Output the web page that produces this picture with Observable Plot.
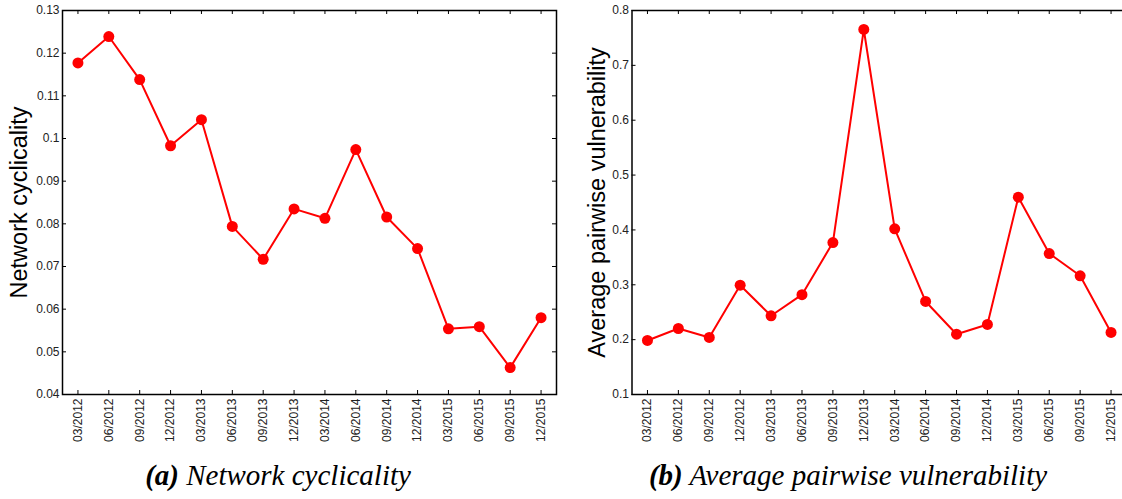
<!DOCTYPE html>
<html>
<head>
<meta charset="utf-8">
<script src="https://cdn.jsdelivr.net/npm/d3@7"></script>
<script src="https://cdn.jsdelivr.net/npm/@observablehq/plot@0.6"></script>
<style>
  html, body { margin: 0; padding: 0; background: #fff; overflow: hidden; }
  #wrap { position: relative; width: 1122px; height: 499px; overflow: hidden; background: #fff; }
  .panel { position: absolute; top: 0; width: 570px; }
  .panel svg { max-width: none !important; }
  .caption { position: absolute; top: 459px; font-family: "Liberation Serif", "Times New Roman", serif; font-style: italic; font-size: 29px; line-height: 33px; color: #000; white-space: nowrap; transform: translateX(-50%); }
  .caption b { font-weight: bold; }
</style>
</head>
<body>
<div id="wrap">
  <div id="left" class="panel" style="left:0px"></div>
  <div id="right" class="panel" style="left:561px"></div>
  <div class="caption" style="left:278px"><b>(a)</b> Network cyclicality</div>
  <div class="caption" style="left:848px"><b>(b)</b> Average pairwise vulnerability</div>
</div>
<script>
const dates = ["03/2012","06/2012","09/2012","12/2012","03/2013","06/2013","09/2013","12/2013","03/2014","06/2014","09/2014","12/2014","03/2015","06/2015","09/2015","12/2015"];
const cyclicality = [0.1177,0.1239,0.1138,0.0983,0.1044,0.0794,0.0717,0.0835,0.0813,0.0974,0.0816,0.0742,0.0554,0.0559,0.0463,0.0580];
const vulnerability = [0.1985,0.2203,0.2040,0.2993,0.2435,0.2820,0.3770,0.7654,0.4020,0.2696,0.2099,0.2277,0.4597,0.3570,0.3164,0.2131];
const cycTicks = [0.04,0.05,0.06,0.07,0.08,0.09,0.1,0.11,0.12,0.13];
const vulTicks = [0.1,0.2,0.3,0.4,0.5,0.6,0.7,0.8];
const cycLabel = "Network cyclicality";
const vulLabel = "Average pairwise vulnerability";

function panel(values, ticks, label, cfg) {
  const data = dates.map((d, i) => ({date: d, value: values[i]}));
  const W = cfg.width - cfg.marginLeft - cfg.marginRight;
  const H = cfg.height - cfg.marginTop - cfg.marginBottom;
  const tk = 4;
  return Plot.plot({
    width: cfg.width,
    height: cfg.height,
    marginLeft: cfg.marginLeft,
    marginRight: cfg.marginRight,
    marginTop: cfg.marginTop,
    marginBottom: cfg.marginBottom,
    style: {fontFamily: "'Liberation Sans', Arial, Helvetica, sans-serif", color: "#000", background: "transparent", overflow: "visible"},
    x: {type: "point", domain: dates, padding: 0.5, round: false},
    y: {domain: [ticks[0], ticks[ticks.length - 1]], nice: false},
    marks: [
      Plot.tickY(ticks, {y: d => d, insetRight: W - tk, stroke: "#000", strokeWidth: 1}),
      Plot.tickY(ticks, {y: d => d, insetLeft: W - tk, stroke: "#000", strokeWidth: 1}),
      Plot.tickX(dates, {x: d => d, insetBottom: H - tk, stroke: "#000", strokeWidth: 1}),
      Plot.tickX(dates, {x: d => d, insetTop: H - tk, stroke: "#000", strokeWidth: 1}),
      Plot.frame({stroke: "#000", strokeWidth: 1.5}),
      Plot.line(data, {x: "date", y: "value", stroke: "#ff0000", strokeWidth: 2}),
      Plot.dot(data, {x: "date", y: "value", r: 5.5, fill: "#ff0000", stroke: "none"}),
      Plot.axisY(ticks, {tickSize: 0, tickPadding: 3, tickFormat: d3.format("~g"), label: null, fontSize: 12, fill: "#222"}),
      Plot.axisX({tickSize: 0, tickRotate: -90, tickPadding: 4, label: null, fontSize: 12, fill: "#222"}),
      Plot.text([label], {frameAnchor: "left", textAnchor: "middle", lineAnchor: "middle", dx: cfg.labelDx, rotate: -90, fontSize: 23.5, fill: "#000"})
    ]
  });
}

document.getElementById("left").appendChild(panel(cyclicality, cycTicks, cycLabel,
  {width: 561, height: 445, marginLeft: 62, marginRight: 5, marginTop: 10, marginBottom: 51, labelDx: -43}));
document.getElementById("right").appendChild(panel(vulnerability, vulTicks, vulLabel,
  {width: 566, height: 445, marginLeft: 70.5, marginRight: 1, marginTop: 10, marginBottom: 51, labelDx: -34.5}));
</script>
</body>
</html>
